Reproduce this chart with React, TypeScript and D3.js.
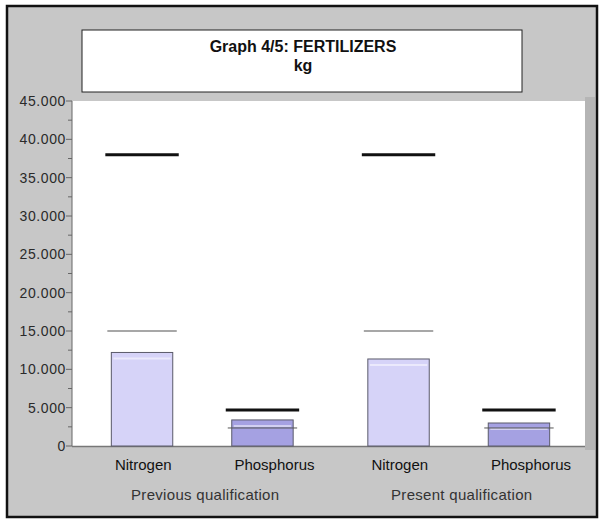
import React, { useEffect, useRef } from 'react';
import * as d3 from 'd3';

const groups = ['Previous qualification', 'Present qualification'];
const nutrients = ['Nitrogen', 'Phosphorus'];
// bar value per group, per nutrient (kg)
const previousAmounts = [12200, 3400];
const presentAmounts = [11350, 3000];
// thick black marker
const previousLimits = [38000, 4700];
const presentLimits = [38000, 4700];
// thin marker
const previousRefs = [15000, 2350];
const presentRefs = [15000, 2350];
const yTicks = [0, 5000, 10000, 15000, 20000, 25000, 30000, 35000, 40000, 45000];

export default function App() {
  const svgRef = useRef<SVGSVGElement>(null);

  useEffect(() => {
    if (!svgRef.current) return;
    const svg = d3.select(svgRef.current);
    svg.selectAll('*').remove();

    const width = 599;
    const height = 520;
    const plot = { left: 72, right: 585, top: 101, bottom: 446 };
    const font = 'font-family: Arial, "Liberation Sans", sans-serif;';

    const rows = groups.map((g, gi) => ({
      group: g,
      amounts: gi === 0 ? previousAmounts : presentAmounts,
      limits: gi === 0 ? previousLimits : presentLimits,
      refs: gi === 0 ? previousRefs : presentRefs,
    }));

    const locale = d3.formatLocale({ decimal: ',', thousands: '.', grouping: [3], currency: ['', ''] });
    const fmt = locale.format(',.0f');

    const y = d3.scaleLinear().domain([0, 45000]).range([plot.bottom, plot.top]);
    const x0 = d3.scaleBand<string>().domain(groups).range([plot.left + 2, plot.right + 2]).padding(0);
    const x1 = d3.scaleBand<string>()
      .domain(nutrients)
      .range([0, x0.bandwidth()])
      .paddingInner(0.49)
      .paddingOuter(0.31);

    // outer frame
    svg.append('rect')
      .attr('x', 0).attr('y', 0).attr('width', width).attr('height', height)
      .attr('fill', '#ffffff');
    svg.append('rect')
      .attr('x', 7).attr('y', 6).attr('width', 590).attr('height', 511)
      .attr('fill', '#c7c7c7')
      .attr('stroke', '#111').attr('stroke-width', 2.5);

    // plot area + right shadow
    svg.append('rect')
      .attr('x', plot.right).attr('y', plot.top - 4).attr('width', 10).attr('height', plot.bottom - plot.top + 8)
      .attr('fill', '#b5b5b5');
    svg.append('rect')
      .attr('x', plot.left).attr('y', plot.top)
      .attr('width', plot.right - plot.left).attr('height', plot.bottom - plot.top)
      .attr('fill', '#ffffff');

    // title box
    svg.append('rect')
      .attr('x', 82).attr('y', 30).attr('width', 440).attr('height', 62)
      .attr('fill', '#ffffff').attr('stroke', '#222').attr('stroke-width', 1);
    const title = svg.append('text')
      .attr('text-anchor', 'middle')
      .attr('style', `${font} font-weight: bold; font-size: 16px;`)
      .attr('fill', '#111');
    title.append('tspan').attr('x', 303).attr('y', 52).text('Graph 4/5: FERTILIZERS');
    title.append('tspan').attr('x', 303).attr('y', 71).text('kg');

    // y axis
    const yAxis = svg.append('g').attr('transform', `translate(${plot.left},0)`);
    yAxis.append('line')
      .attr('x1', 0).attr('x2', 0).attr('y1', plot.top).attr('y2', plot.bottom)
      .attr('stroke', '#666').attr('stroke-width', 1);
    const minor = d3.range(2500, 45000, 5000);
    yAxis.selectAll('.minor')
      .data(minor)
      .join('line')
      .attr('x1', -4).attr('x2', 0)
      .attr('y1', d => y(d)).attr('y2', d => y(d))
      .attr('stroke', '#666');
    yAxis.selectAll('.major')
      .data(yTicks)
      .join('line')
      .attr('x1', -6).attr('x2', 0)
      .attr('y1', d => y(d)).attr('y2', d => y(d))
      .attr('stroke', '#666');
    yAxis.selectAll('.lbl')
      .data(yTicks)
      .join('text')
      .attr('x', -6)
      .attr('y', d => y(d))
      .attr('dy', '0.35em')
      .attr('text-anchor', 'end')
      .attr('fill', '#2a2a2a')
      .attr('style', `${font} font-size: 14px; letter-spacing: 0.6px;`)
      .text(d => fmt(d));

    // baseline
    svg.append('line')
      .attr('x1', plot.left).attr('x2', plot.right)
      .attr('y1', plot.bottom + 0.5).attr('y2', plot.bottom + 0.5)
      .attr('stroke', '#777').attr('stroke-width', 1.5);

    const barColors: Record<string, string> = { Nitrogen: '#d6d3f8', Phosphorus: '#a5a1e2' };

    const g = svg.selectAll('.grp')
      .data(rows)
      .join('g')
      .attr('transform', d => `translate(${x0(d.group)},0)`);

    g.each(function (row) {
      const el = d3.select(this);
      nutrients.forEach((n, i) => {
        const bx = x1(n)!;
        const bw = x1.bandwidth();
        el.append('rect')
          .attr('x', bx).attr('y', y(row.amounts[i]))
          .attr('width', bw).attr('height', plot.bottom - y(row.amounts[i]))
          .attr('fill', barColors[n])
          .attr('stroke', '#5a5a6a').attr('stroke-width', 1);
        // soft highlight near the top
        el.append('line')
          .attr('x1', bx + 2).attr('x2', bx + bw - 2)
          .attr('y1', y(row.amounts[i]) + 6).attr('y2', y(row.amounts[i]) + 6)
          .attr('stroke', '#ffffff').attr('stroke-opacity', 0.5).attr('stroke-width', 2);
        // thin reference marker
        el.append('line')
          .attr('x1', bx - 4).attr('x2', bx + bw + 4)
          .attr('y1', y(row.refs[i])).attr('y2', y(row.refs[i]))
          .attr('stroke', n === 'Nitrogen' ? '#8a8a8a' : '#555')
          .attr('stroke-width', n === 'Nitrogen' ? 1.5 : 1);
        // thick limit marker
        el.append('line')
          .attr('x1', bx - 6).attr('x2', bx + bw + 6)
          .attr('y1', y(row.limits[i])).attr('y2', y(row.limits[i]))
          .attr('stroke', '#111').attr('stroke-width', 3);
        // category label
        el.append('text')
          .attr('x', bx + bw / 2 + 12 * (i === 1 ? 1 : 0.1)).attr('y', 470)
          .attr('text-anchor', 'middle')
          .attr('fill', '#111')
          .attr('style', `${font} font-size: 15px;`)
          .text(n);
      });
      el.append('text')
        .attr('x', x0.bandwidth() / 2 + 3).attr('y', 500)
        .attr('text-anchor', 'middle')
        .attr('fill', '#333')
        .attr('style', `${font} font-size: 15px; letter-spacing: 0.3px;`)
        .text(row.group);
    });
  }, []);

  return (
    <div style={{ position: 'fixed', left: 0, top: 0, width: 599, height: 520 }}>
      <svg ref={svgRef} width={599} height={520} style={{ display: 'block' }}></svg>
    </div>
  );
}
